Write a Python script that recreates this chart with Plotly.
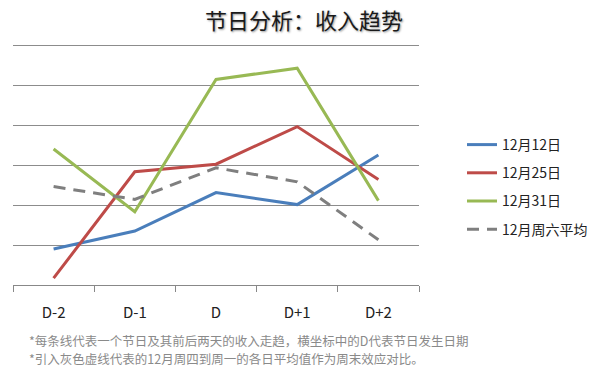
import plotly.graph_objects as go

categories = ["D-2", "D-1", "D", "D+1", "D+2"]
dec12 = [0.9, 1.35, 2.31, 2.01, 3.25]
dec25 = [0.17, 2.83, 3.02, 3.96, 2.64]
dec31 = [3.4, 1.83, 5.14, 5.42, 2.11]
sat_avg = [2.46, 2.14, 2.93, 2.58, 1.13]
series_names = ["12月12日", "12月25日", "12月31日", "12月周六平均"]
grid_values = [1, 2, 3, 4, 5, 6]
title_text = "节日分析：收入趋势"
notes = [
    "*每条线代表一个节日及其前后两天的收入走趋，横坐标中的D代表节日发生日期",
    "*引入灰色虚线代表的12月周四到周一的各日平均值作为周末效应对比。",
]
boundaries = [i - 0.5 for i in range(len(categories) + 1)]

FONT = "Noto Sans CJK SC, Microsoft YaHei, sans-serif"
W, H = 615, 374
L, R, T, B = 13, 419, 41, 285

fig = go.Figure()
styles = [
    (dec12, "#4A7EBB", "solid"),
    (dec25, "#BE4B48", "solid"),
    (dec31, "#98B954", "solid"),
    (sat_avg, "#7F7F7F", "12px,8px"),
]
for i, ((vals, color, dash), name) in enumerate(zip(styles, series_names)):
    fig.add_trace(go.Scatter(
        x=categories, y=vals, name=name, mode="lines",
        line=dict(color=color, width=3, dash=dash),
        legendgroup=f"g{i}",
    ))

# invisible helper trace so the boundary-tick axis is rendered
fig.add_trace(go.Scatter(
    x=[boundaries[0], boundaries[-1]], y=[0, 0], xaxis="x2", yaxis="y",
    mode="markers", marker=dict(size=1, opacity=0),
    showlegend=False, hoverinfo="skip",
))

fig.update_layout(
    width=W, height=H,
    margin=dict(l=L, r=W - R, t=T, b=H - B, pad=0, autoexpand=False),
    paper_bgcolor="white", plot_bgcolor="white",
    font=dict(family=FONT, size=14, color="#222"),
    title=dict(
        text=title_text, x=304 / W, xref="container", xanchor="center",
        y=1 - 21 / H, yref="container", yanchor="middle",
        font=dict(family=FONT, size=22, color="#1a1a1a", shadow="1px 1px 2px #999"),
    ),
    showlegend=True,
    legend=dict(
        xref="container", yref="container",
        x=462 / W, xanchor="left",
        y=1 - 129 / H, yanchor="top",
        font=dict(family=FONT, size=14, color="#222"),
        tracegroupgap=7, bgcolor="rgba(0,0,0,0)",
    ),
    xaxis=dict(
        type="category", range=[-0.5, 4.5], automargin=False,
        showline=True, linecolor="#888", linewidth=1,
        ticks="outside", ticklen=14, tickcolor="rgba(0,0,0,0)",
        showgrid=False, zeroline=False,
        tickfont=dict(family=FONT, size=15, color="#222"),
    ),
    xaxis2=dict(
        overlaying="x", anchor="y", side="bottom", type="linear",
        range=[-0.5, 4.5], tickmode="array", tickvals=boundaries,
        ticks="outside", ticklen=6, tickcolor="#888",
        showticklabels=False, showgrid=False, zeroline=False, showline=False,
        automargin=False,
    ),
    yaxis=dict(
        range=[0, 6.1], tickmode="array", tickvals=grid_values,
        showticklabels=False, automargin=False,
        showgrid=True, gridcolor="#8c8c8c", gridwidth=1,
        zeroline=False, showline=False, ticks="",
    ),
)

for txt, ypx in zip(notes, (340, 358)):
    fig.add_annotation(text=txt, xref="paper", yref="paper",
                       x=(27 - L) / (R - L), y=(B - ypx) / (B - T),
                       xanchor="left", yanchor="middle", align="left", showarrow=False,
                       font=dict(family=FONT, size=12.5, color="#8a8a8a"))

fig.write_html("out.html", config={"displayModeBar": False},
               post_script="document.body.style.margin='0';")
